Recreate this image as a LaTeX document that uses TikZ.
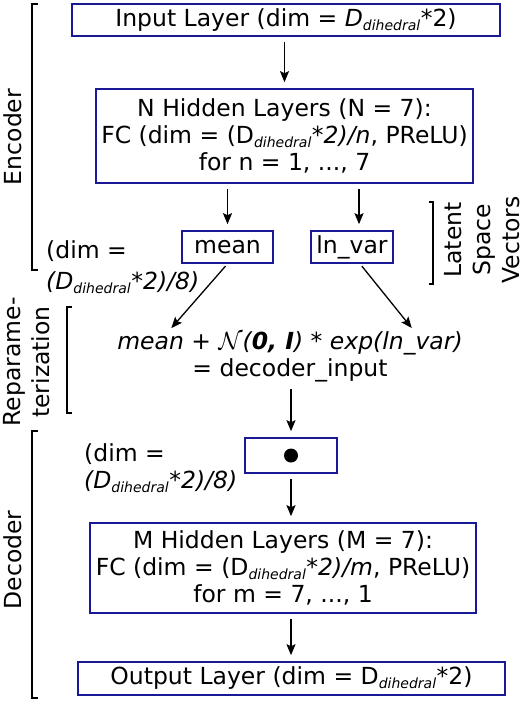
\documentclass[tikz,border=0pt]{standalone}
\usepackage{fontspec}
\setmainfont{DejaVu Sans}
\usetikzlibrary{arrows.meta,calc}
\definecolor{boxblue}{RGB}{25,25,150}
\newcommand{\dihed}{\textsubscript{\fontsize{14}{14}\selectfont\itshape dihedral}}

\begin{document}
\begin{tikzpicture}[x=1pt, y=-1pt,
    font=\fontsize{23.5}{27}\selectfont,
    box/.style={rectangle, draw=boxblue, line width=1.6pt, align=center, inner xsep=1pt, inner ysep=0pt},
    line/.style={draw, line width=1.3pt, -{Stealth[length=11pt, width=9pt, inset=2pt]}, shorten <=5pt, shorten >=6pt},
    bracket/.style={draw, line width=1.5pt},
    side/.style={rotate=90, align=center, inner sep=0pt, font=\fontsize{23.5}{29}\selectfont}
]
    \useasboundingbox (0,0) rectangle (526,702);

    % Encoder blocks
    \node[box, minimum width=428pt, minimum height=32pt] (input) at (286,20) {Input Layer (dim = \textit{D}\dihed*2)};
    \node[box, minimum width=377pt, minimum height=94pt] (enchidden) at (284.5,136)
        {N Hidden Layers (N = 7):\\FC (dim = (D\dihed\textit{*2)/n}, PReLU)\\for n = 1, ..., 7};
    \node[box, minimum width=91pt, minimum height=32pt] (mean) at (227.5,247) {mean};
    \node[box, minimum width=82pt, minimum height=32pt] (lnvar) at (352,247) {ln\_var};
    \node[align=left, anchor=west, inner sep=0pt] (dimenc) at (46,267) {(dim =\\[4pt]\textit{(D\dihed*2)/8)}};

    \draw[line] (input.south -| enchidden) -- (enchidden);
    \draw[line] (enchidden.south -| mean) -- (mean);
    \draw[line] ([xshift=7pt]enchidden.south -| lnvar) -- ([xshift=7pt]lnvar.north);

    % Reparameterization
    \node[align=center, inner sep=2pt] (reparam) at (290,357)
        {\textit{mean + $\mathcal{N}$(\textbf{0, I}) * exp(ln\_var)}\\= decoder\_input};
    \draw[line, shorten <=3pt, shorten >=2pt] (mean.south) -- ([xshift=-120pt]reparam.north);
    \draw[line, shorten <=3pt, shorten >=2pt] ([xshift=8pt]lnvar.south) -- ([xshift=123pt]reparam.north);

    % Decoder blocks
    \node[box, minimum width=92pt, minimum height=35pt] (latent) at (291,455.5) {};
    \fill (latent.center) circle (7);
    \node[align=left, anchor=west, inner sep=0pt] (dimdec) at (84,468) {(dim =\\\textit{(D\dihed*2)/8)}};
    \node[box, minimum width=386pt, minimum height=90pt] (dechidden) at (283,568)
        {M Hidden Layers (M = 7):\\FC (dim = (D\dihed\textit{*2)/m}, PReLU)\\for m = 7, ..., 1};
    \node[box, minimum width=427pt, minimum height=33pt] (output) at (291.5,678.5) {Output Layer (dim = D\dihed*2)};

    \draw[line] (reparam.south -| latent) -- (latent);
    \draw[line] (latent) -- (latent |- dechidden.north);
    \draw[line] (latent |- dechidden.south) -- (latent |- output.north);

    % Side brackets
    \draw[bracket] (38,4) -- (32,4) -- (32,270) -- (38,270);
    \node[side] (enclabel) at (13,137) {Encoder};
    \draw[bracket] (429,202) -- (433,202) -- (433,284) -- (429,284);
    \node[side] (latentlabel) at (482,240) {Latent\\Space\\Vectors};
    \draw[bracket] (72,307) -- (67,307) -- (67,413) -- (72,413);
    \node[side] (reparamlabel) at (27,362) {Reparame-\\terization};
    \draw[bracket] (38,431) -- (32,431) -- (32,698) -- (38,698);
    \node[side] (declabel) at (13,560) {Decoder};

\end{tikzpicture}
\end{document}
